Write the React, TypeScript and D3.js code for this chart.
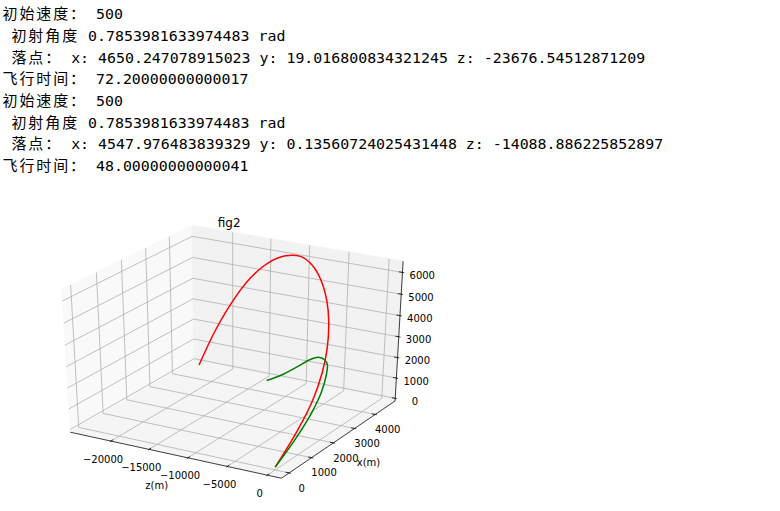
import React from 'react';
import * as d3 from 'd3';

// ---------- console output text ----------
const OUTPUT_LINES = [
  '初始速度： 500',
  ' 初射角度 0.7853981633974483 rad',
  ' 落点： x: 4650.247078915023 y: 19.016800834321245 z: -23676.54512871209',
  '飞行时间： 72.20000000000017',
  '初始速度： 500',
  ' 初射角度 0.7853981633974483 rad',
  ' 落点： x: 4547.976483839329 y: 0.13560724025431448 z: -14088.886225852897',
  '飞行时间： 48.00000000000041',
];

// ---------- trajectory data (z, x, height) ----------
const RED_Z = [0, -30, -250, -800, -1550, -2750, -4050, -5750, -7450, -9450, -11650, -14100, -16500, -18850, -21250, -23676.55];
const RED_X = [0, 952, 1709, 2313, 2793, 3285, 3648, 3971, 4191, 4366, 4477, 4548, 4592, 4620, 4638, 4650.25];
const RED_H = [0, 1017, 1945, 2785, 3537, 4402, 5111, 5776, 6197, 6377, 6205, 5680, 4804, 3573, 1990, 19.02];

const GREEN_Z = [0, -30, -250, -800, -1550, -2750, -4050, -5750, -7450, -9450, -11650, -14088.89];
const GREEN_X = [0, 952, 1709, 2313, 2793, 3285, 3648, 3971, 4191, 4366, 4477, 4547.98];
const GREEN_H = [0, 760, 1420, 1900, 2300, 2420, 2320, 2120, 1740, 1160, 540, 0.14];

const Z_TICKS = [-20000, -15000, -10000, -5000, 0];
const X_TICKS = [0, 1000, 2000, 3000, 4000];
const H_TICKS = [0, 1000, 2000, 3000, 4000, 5000, 6000];

const TITLE = 'fig2';
const Z_LABEL = 'z(m)';
const X_LABEL = 'x(m)';

// ---------- projection (matplotlib-like 3D) ----------
const ELEV = 30, AZIM = -60, DIST = 10;
const el = (ELEV * Math.PI) / 180, az = (AZIM * Math.PI) / 180;
const N = [Math.cos(el) * Math.cos(az), Math.cos(el) * Math.sin(az), Math.sin(el)];
const uLen = Math.hypot(N[1], N[0]);
const U = [-N[1] / uLen, N[0] / uLen, 0];
const V = [N[1] * U[2] - N[2] * U[1], N[2] * U[0] - N[0] * U[2], N[0] * U[1] - N[1] * U[0]];

function withMargin(vals: number[], m: number): [number, number] {
  const [lo, hi] = d3.extent(vals) as [number, number];
  const r = hi - lo;
  return [lo - m * r, hi + m * r];
}
function box(l: [number, number]): [number, number] {
  const d = (l[1] - l[0]) / 12;
  return [l[0] - d / 4, l[1] + d / 4];
}
const zLim = withMargin([...RED_Z, ...GREEN_Z], 0.05);
const xLim = withMargin([...RED_X, ...GREEN_X], 0.05);
const hLim = withMargin([...RED_H, ...GREEN_H], 0);

const sA = d3.scaleLinear().domain(box(zLim)).range([-0.5, 0.5]);
const sB = d3.scaleLinear().domain(box(xLim)).range([-0.5, 0.5]);
const sC = d3.scaleLinear().domain(box(hLim)).range([-0.5, 0.5]);

const px = d3.scaleLinear().domain([-0.095, 0.09]).range([3.78, 454.44]);
const py = d3.scaleLinear().domain([-0.095, 0.09]).range([502.35, 200.8]);

function projN(a: number, b: number, c: number): [number, number] {
  const dep = DIST - (N[0] * a + N[1] * b + N[2] * c);
  const sx = (U[0] * a + U[1] * b + U[2] * c) / dep;
  const sy = (V[0] * a + V[1] * b + V[2] * c) / dep;
  return [px(sx), py(sy)];
}

const fmt = (v: number) => (v < 0 ? '\u2212' + Math.abs(v) : String(v));

// ---------- text layout ----------
const X0 = 2.5, ADV_LATIN = 8.97, ADV_CJK = 16.9, BASE0 = 19.2, LINE_STEP = 21.67;
const isCJK = (ch: string) => /[\u3000-\u9fff\uff00-\uffef]/.test(ch);
function layoutLine(s: string) {
  const runs: { cjk: boolean; text: string; xs: number[] }[] = [];
  let x = X0;
  let cur: { cjk: boolean; text: string; xs: number[] } | null = null;
  for (const ch of s) {
    const cjk = isCJK(ch);
    if (ch === ' ') {
      x += ADV_LATIN;
      cur = null;
      continue;
    }
    if (!cur || cur.cjk !== cjk) {
      cur = { cjk, text: '', xs: [] };
      runs.push(cur);
    }
    cur.text += ch;
    cur.xs.push(+x.toFixed(2));
    x += cjk ? ADV_CJK : ADV_LATIN;
  }
  return runs;
}

export default function App() {
  const line = d3.line<[number, number]>().curve(d3.curveCatmullRom.alpha(0.5));
  const pathOf = (zs: number[], xs: number[], hs: number[]) =>
    line(zs.map((z, i) => projN(sA(z), sB(xs[i]), sC(hs[i])))) || '';

  const poly = (pts: [number, number, number][]) =>
    pts.map((p) => projN(p[0], p[1], p[2]).join(',')).join(' ');

  const gridColor = '#b0b0b0';
  const grid: string[] = [];
  Z_TICKS.forEach((t) => {
    const a = sA(t);
    grid.push(poly([[a, -0.5, -0.5], [a, 0.5, -0.5], [a, 0.5, 0.5]]));
  });
  X_TICKS.forEach((t) => {
    const b = sB(t);
    grid.push(poly([[-0.5, b, 0.5], [-0.5, b, -0.5], [0.5, b, -0.5]]));
  });
  H_TICKS.forEach((t) => {
    const c = sC(t);
    grid.push(poly([[0.5, 0.5, c], [-0.5, 0.5, c], [-0.5, -0.5, c]]));
  });

  const tickLines: [number, number, number, number][] = [];
  Z_TICKS.forEach((t) => {
    const a = sA(t);
    const p1 = projN(a, -0.508, -0.5), p2 = projN(a, -0.484, -0.5);
    tickLines.push([p1[0], p1[1], p2[0], p2[1]]);
  });
  X_TICKS.forEach((t) => {
    const b = sB(t);
    const p1 = projN(0.508, b, -0.5), p2 = projN(0.484, b, -0.5);
    tickLines.push([p1[0], p1[1], p2[0], p2[1]]);
  });
  H_TICKS.forEach((t) => {
    const c = sC(t);
    const p1 = projN(0.508, 0.5, c), p2 = projN(0.484, 0.5, c);
    tickLines.push([p1[0], p1[1], p2[0], p2[1]]);
  });

  const axA = projN(-0.5, -0.5, -0.5), axB = projN(0.5, -0.5, -0.5);
  const axC = projN(0.5, 0.5, -0.5), axD = projN(0.5, 0.5, 0.5);
  const zLabPos = projN(0, -0.5, -0.5);
  const xLabPos = projN(0.5, 0, -0.5);

  const tickFont = { fontFamily: 'DejaVu Sans', fontSize: 10, fill: '#000' };

  return (
    <svg width={780} height={511} style={{ position: 'absolute', left: 0, top: 0, background: '#fff' }}>
      <rect x={0} y={0} width={780} height={511} fill="#fff" />
      {OUTPUT_LINES.map((s, i) => (
        <text key={i} y={+(BASE0 + i * LINE_STEP).toFixed(1)} fill="#000">
          {layoutLine(s).map((r, j) => (
            <tspan
              key={j}
              x={r.xs.join(' ')}
              style={
                r.cjk
                  ? { fontFamily: '"Noto Sans CJK SC"', fontSize: 15 }
                  : { fontFamily: '"DejaVu Sans Mono"', fontSize: 14.9 }
              }
            >
              {r.text}
            </tspan>
          ))}
        </text>
      ))}

      {/* panes */}
      <polygon points={poly([[-0.5, -0.5, -0.5], [-0.5, 0.5, -0.5], [-0.5, 0.5, 0.5], [-0.5, -0.5, 0.5]])} fill="#f9f9f9" stroke="#f9f9f9" />
      <polygon points={poly([[-0.5, 0.5, -0.5], [0.5, 0.5, -0.5], [0.5, 0.5, 0.5], [-0.5, 0.5, 0.5]])} fill="#f2f2f2" stroke="#f2f2f2" />
      <polygon points={poly([[-0.5, -0.5, -0.5], [0.5, -0.5, -0.5], [0.5, 0.5, -0.5], [-0.5, 0.5, -0.5]])} fill="#f5f5f5" stroke="#f5f5f5" />

      {grid.map((g, i) => (
        <polyline key={i} points={g} fill="none" stroke={gridColor} strokeWidth={0.8} />
      ))}

      <line x1={axA[0]} y1={axA[1]} x2={axB[0]} y2={axB[1]} stroke="#000" strokeWidth={0.75} />
      <line x1={axB[0]} y1={axB[1]} x2={axC[0]} y2={axC[1]} stroke="#000" strokeWidth={0.75} />
      <line x1={axC[0]} y1={axC[1]} x2={axD[0]} y2={axD[1]} stroke="#000" strokeWidth={0.75} />
      {tickLines.map((t, i) => (
        <line key={i} x1={t[0]} y1={t[1]} x2={t[2]} y2={t[3]} stroke="#000" strokeWidth={0.8} />
      ))}

      {Z_TICKS.map((t) => {
        const p = projN(sA(t), -0.5, -0.5);
        return (
          <text key={'z' + t} x={p[0] - 7.8} y={p[1] + 18} textAnchor="middle" dominantBaseline="central" style={tickFont}>
            {fmt(t)}
          </text>
        );
      })}
      {X_TICKS.map((t) => {
        const p = projN(0.5, sB(t), -0.5);
        return (
          <text key={'x' + t} x={p[0] + 12.5} y={p[1] + 15.3} textAnchor="middle" dominantBaseline="central" style={tickFont}>
            {fmt(t)}
          </text>
        );
      })}
      {H_TICKS.map((t) => {
        const p = projN(0.5, 0.5, sC(t));
        return (
          <text key={'h' + t} x={p[0] + 19.8} y={p[1] + 3.2} textAnchor="middle" dominantBaseline="central" style={tickFont}>
            {fmt(t)}
          </text>
        );
      })}

      <text x={zLabPos[0] - 16.8} y={zLabPos[1] + 30.3} textAnchor="middle" dominantBaseline="central" style={tickFont}>
        {Z_LABEL}
      </text>
      <text x={xLabPos[0] + 28.2} y={xLabPos[1] + 24.2} textAnchor="middle" dominantBaseline="central" style={tickFont}>
        {X_LABEL}
      </text>

      <path d={pathOf(RED_Z, RED_X, RED_H)} fill="none" stroke="#ff0000" strokeWidth={1.5} />
      <path d={pathOf(GREEN_Z, GREEN_X, GREEN_H)} fill="none" stroke="#008000" strokeWidth={1.5} />

      <text x={(px(-0.095) + px(0.09)) / 2} y={226.5} textAnchor="middle" style={{ fontFamily: 'DejaVu Sans', fontSize: 12, fill: '#000' }}>
        {TITLE}
      </text>
    </svg>
  );
}
